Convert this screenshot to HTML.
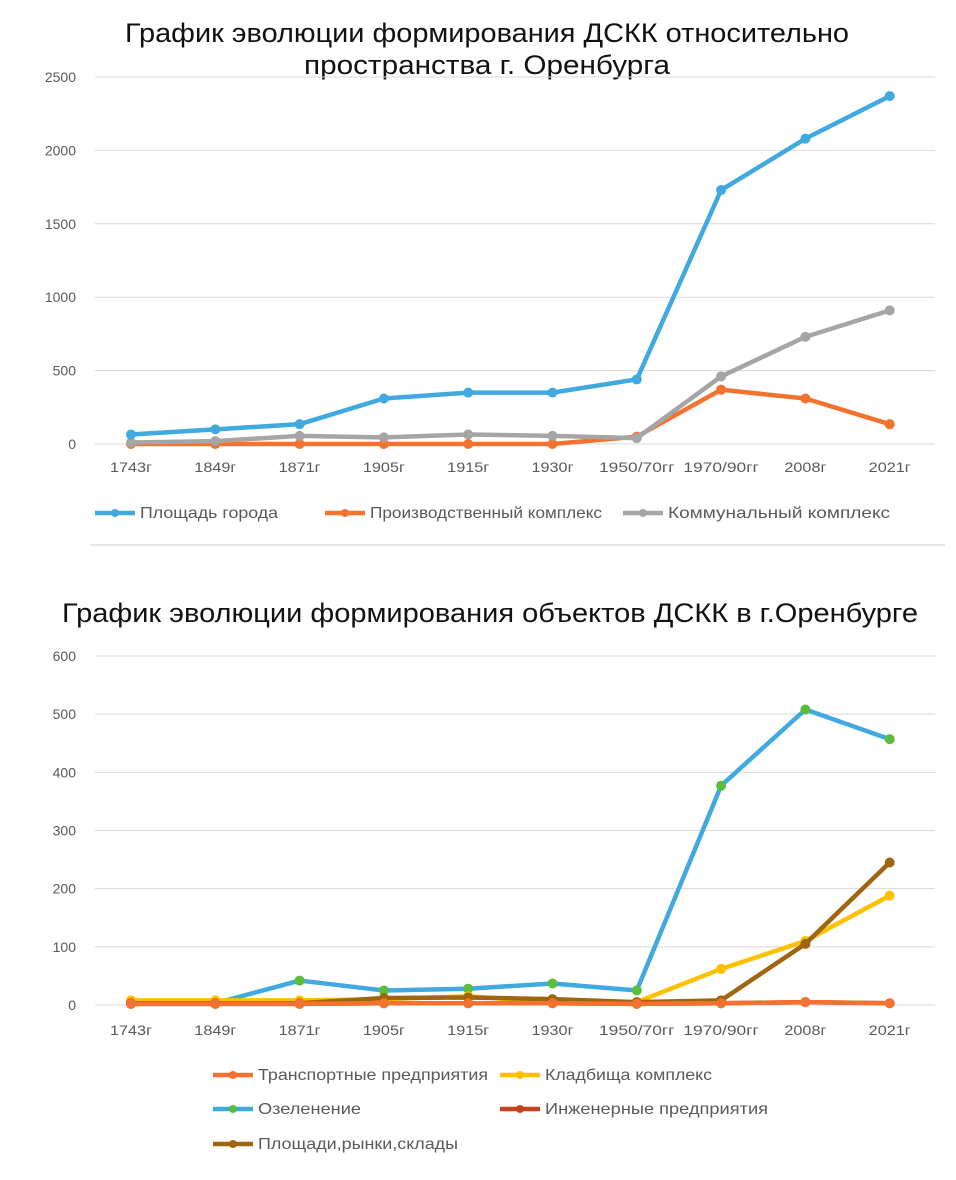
<!DOCTYPE html>
<html><head><meta charset="utf-8"><style>
body{margin:0;background:#fff;}
svg{display:block;font-family:"Liberation Sans","DejaVu Sans",sans-serif;}
.t{font-size:14px;fill:#595959;}
</style></head><body>
<svg id="s" width="956" height="1180">
<text x="487" y="42" text-anchor="middle" font-size="27" fill="#111" textLength="724" lengthAdjust="spacingAndGlyphs">График эволюции формирования ДСКК относительно</text>
<text x="487" y="74" text-anchor="middle" font-size="27" fill="#111" textLength="366" lengthAdjust="spacingAndGlyphs">пространства  г. Оренбурга</text>
<line x1="90" y1="545" x2="945" y2="545" stroke="#ddd" stroke-width="1.5"/>
<text x="490" y="622" text-anchor="middle" font-size="27" fill="#111" textLength="856" lengthAdjust="spacingAndGlyphs">График эволюции формирования объектов ДСКК в г.Оренбурге</text>
<g id="c1"></g>
<g id="c2"></g>
</svg>
<script>
const categories=["1743г","1849г","1871г","1905г","1915г","1930г","1950/70гг","1970/90гг","2008г","2021г"];
const c1Ticks=[0,500,1000,1500,2000,2500];
const c1Names=["Площадь города","Производственный комплекс","Коммунальный комплекс"];
const c1Area=[65,100,135,310,350,350,440,1730,2080,2370];
const c1Prod=[0,0,0,0,0,0,50,370,310,135];
const c1Comm=[10,20,55,45,65,55,40,460,730,910];
const c2Ticks=[0,100,200,300,400,500,600];
const c2Names=["Транспортные предприятия","Кладбища комплекс","Озеленение","Инженерные предприятия","Площади,рынки,склады"];
const c2Transport=[2,2,2,3,3,3,2,3,5,3];
const c2Cemetery=[8,8,8,10,15,5,5,62,110,188];
const c2Green=[3,3,42,25,28,37,25,377,508,457];
const c2Engineering=[2,2,2,3,3,3,2,3,5,3];
const c2Squares=[3,3,3,12,13,10,5,8,105,245];
const NS="http://www.w3.org/2000/svg";
function mk(p,tag,a){const e=document.createElementNS(NS,tag);for(const k in a)e.setAttribute(k,a[k]);p.appendChild(e);return e;}
function xPos(i){return 131+i*84.3;}
function chart(g,ticks,y0,yTop,vmax,series,labelY){
  const y=v=>y0-(v/vmax)*(y0-yTop);
  ticks.forEach(t=>{
    const l=mk(g,'line',{x1:95,x2:935,y1:y(t),y2:y(t),stroke:'#d9d9d9','stroke-width':1});
    
    
    const tx=mk(g,'text',{x:76,y:y(t)+5,'text-anchor':'end',class:'t'});tx.textContent=t;
    
    
  });
  categories.forEach((c,i)=>{
    const tx=mk(g,'text',{x:xPos(i),y:labelY,'text-anchor':'middle',class:'t',textLength:c.length*8.4,lengthAdjust:'spacingAndGlyphs'});tx.textContent=c;
    
    
  });
  series.forEach(s=>{
    const pts=s.v.map((v,i)=>xPos(i)+','+y(v)).join(' ');
    const pl=mk(g,'polyline',{points:pts,fill:'none',stroke:s.c,'stroke-width':4.5,'stroke-linejoin':'round'});
    
    
    s.v.forEach((v,i)=>{
      const ci=mk(g,'circle',{cx:xPos(i),cy:y(v),r:5,fill:s.m||s.c});
      
      
    });
  });
}
function legend(g,x,yy,name,c,m,w){
  const l=mk(g,'line',{x1:x,x2:x+40,y1:yy,y2:yy,stroke:c,'stroke-width':4.5});
  
  
  const ci=mk(g,'circle',{cx:x+20,cy:yy,r:4,fill:m||c});
  
  
  const t=mk(g,'text',{x:x+45,y:yy+5,'font-size':'16',fill:'#595959',textLength:w,lengthAdjust:'spacingAndGlyphs'});t.textContent=name;
  
  
}
const g1=document.getElementById('c1');
chart(g1,c1Ticks,444,77,2500,[{v:c1Prod,c:'#f47230'},{v:c1Comm,c:'#a5a5a5'},{v:c1Area,c:'#3fa9e0'}],472);
legend(g1,95,513,c1Names[0],'#3fa9e0',null,138);
legend(g1,325,513,c1Names[1],'#f47230',null,232);
legend(g1,623,513,c1Names[2],'#a5a5a5',null,222);
const g2=document.getElementById('c2');
chart(g2,c2Ticks,1005,656,600,[{v:c2Green,c:'#3fa9e0',m:'#5bbd3a'},{v:c2Cemetery,c:'#ffc000'},{v:c2Engineering,c:'#c4431a'},{v:c2Squares,c:'#a0660f'},{v:c2Transport,c:'#f47230'}],1035);
legend(g2,213,1075,c2Names[0],'#f47230',null,230);
legend(g2,500,1075,c2Names[1],'#ffc000',null,167);
legend(g2,213,1109,c2Names[2],'#3fa9e0','#5bbd3a',103);
legend(g2,500,1109,c2Names[3],'#c4431a',null,223);
legend(g2,213,1144,c2Names[4],'#a0660f',null,200);
</script>
</body></html>
